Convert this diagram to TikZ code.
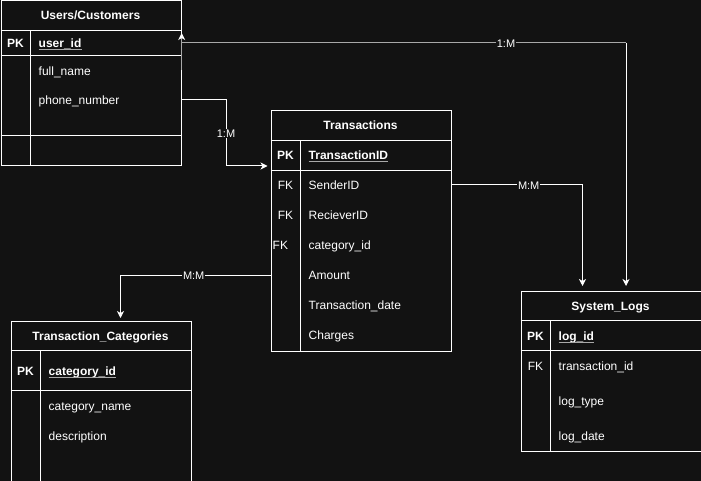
\documentclass[tikz,border=0pt]{standalone}
\usepackage{fontspec}
\setmainfont{Liberation Sans}
\usetikzlibrary{arrows.meta}
\definecolor{canvas}{HTML}{121212}
\definecolor{dimline}{HTML}{A8A8A8}
\begin{document}
\begin{tikzpicture}[x=1pt,y=-1pt,
  every node/.style={text=white, font=\fontsize{12}{14}\selectfont},
  table/.style={draw=white, line width=1pt, inner sep=0pt, anchor=north west, minimum width=180pt},
  grid/.style={draw=white, line width=1pt},
  txt/.style={inner sep=0pt, yshift=-0.8pt},
  title/.style={txt, anchor=base, font=\fontsize{12}{14}\selectfont\bfseries},
  key/.style={txt, anchor=base, font=\fontsize{12}{14}\selectfont\bfseries},
  fk/.style={txt, anchor=base},
  field/.style={txt, anchor=base west},
  pkfield/.style={txt, anchor=base west, font=\fontsize{12}{14}\selectfont\bfseries},
  keyline/.style={draw=dimline, line width=1pt},
  wire/.style={draw=white, line width=1pt},
  tip/.style={-{Stealth[length=7pt,width=7pt,inset=2pt,color=white]}},
  tag/.style={fill=canvas, inner sep=1pt, yshift=-0.5pt, font=\fontsize{11}{13}\selectfont}
]
\useasboundingbox (0,0) rectangle (701,481);
\fill[canvas] (0,0) rectangle (701,481);

% ---------------- Users/Customers
\node[table, minimum height=165pt] (users) at (0.5,0.5) {};
\draw[grid] (0.5,30.5) -- (180.5,30.5);
\draw[grid] (0.5,55.5) -- (180.5,55.5);
\draw[grid] (0.5,135.5) -- (180.5,135.5);
\draw[grid] (30.5,30.5) -- (30.5,165.5);
\node[title] (users-title) at (90.5,19) {Users/Customers};
\node[key] (users-pk) at (15.5,47) {PK};
\node[pkfield] (users-id) at (38.5,47) {user\_id};
\draw[keyline] ([yshift=-1.8pt]users-id.base west) -- ([yshift=-1.8pt]users-id.base east);
\node[field] (users-name) at (38.5,75) {full\_name};
\node[field] (users-phone) at (38.5,104) {phone\_number};

% ---------------- Transactions
\node[table, minimum height=240pt] (trans) at (270.5,110.5) {};
\draw[grid] (270.5,140.5) -- (450.5,140.5);
\draw[grid] (270.5,170.5) -- (450.5,170.5);
\draw[grid] (300.5,140.5) -- (300.5,350.5);
\node[title] (trans-title) at (360.5,129) {Transactions};
\node[key] (trans-pk) at (285.5,159) {PK};
\node[pkfield] (trans-id) at (308.5,159) {TransactionID};
\draw[keyline] ([yshift=-1.8pt]trans-id.base west) -- ([yshift=-1.8pt]trans-id.base east);
\node[fk] (trans-fk1) at (285.5,189) {FK};
\node[fk] (trans-fk2) at (285.5,219) {FK};
\node[field] (trans-fk3) at (272.5,249) {FK};
\node[field] (trans-sender) at (308.5,189) {SenderID};
\node[field] (trans-receiver) at (308.5,219) {RecieverID};
\node[field] (trans-cat) at (308.5,249) {category\_id};
\node[field] (trans-amount) at (308.5,279) {Amount};
\node[field] (trans-date) at (308.5,309) {Transaction\_date};
\node[field] (trans-charges) at (308.5,339) {Charges};

% ---------------- Transaction_Categories
\node[table, minimum height=160pt] (cats) at (10.5,320.5) {};
\draw[grid] (10.5,350.5) -- (190.5,350.5);
\draw[grid] (10.5,390.5) -- (190.5,390.5);
\draw[grid] (40.5,350.5) -- (40.5,480.5);
\node[title] (cats-title) at (100.5,340) {Transaction\_Categories};
\node[key] (cats-pk) at (25.5,374.5) {PK};
\node[pkfield] (cats-id) at (48.5,374.5) {category\_id};
\draw[keyline] ([yshift=-1.8pt]cats-id.base west) -- ([yshift=-1.8pt]cats-id.base east);
\node[field] (cats-name) at (48.5,410) {category\_name};
\node[field] (cats-desc) at (48.5,440) {description};

% ---------------- System_Logs
\node[table, minimum height=160pt] (logs) at (520.5,290.5) {};
\draw[grid] (520.5,320.5) -- (700.5,320.5);
\draw[grid] (520.5,350.5) -- (700.5,350.5);
\draw[grid] (550.5,320.5) -- (550.5,450.5);
\node[title] (logs-title) at (610.5,310) {System\_Logs};
\node[key] (logs-pk) at (535.5,339.5) {PK};
\node[pkfield] (logs-id) at (558.5,339.5) {log\_id};
\draw[keyline] ([yshift=-1.8pt]logs-id.base west) -- ([yshift=-1.8pt]logs-id.base east);
\node[fk] (logs-fk) at (535.5,370) {FK};
\node[field] (logs-tid) at (558.5,370) {transaction\_id};
\node[field] (logs-type) at (558.5,405) {log\_type};
\node[field] (logs-date) at (558.5,440) {log\_date};

% ---------------- Relationships
% Users -> Transactions
\coordinate (k1) at (226,100);
\coordinate (k2) at (226,166);
\draw[wire, tip, shorten >=3pt] (users.east |- k1) -- (k1) -- (k2) -- (trans.west |- k2);
\node[tag] (r1) at (226,133) {1:M};

% Transactions -> System_Logs
\coordinate (k3) at (582.5,185);
\draw[wire, tip, shorten >=4.5pt] (trans.east |- k3) -- (k3) -- (k3 |- logs.north);
\node[tag] (r2) at (528.7,185) {M:M};

% Transactions -> Transaction_Categories
\coordinate (k4) at (120.5,275);
\draw[wire, tip, shorten >=2.5pt] (trans.west |- k4) -- (k4) -- (k4 |- cats.north);
\node[tag] (r3) at (193.7,275) {M:M};

% System_Logs <-> Users/Customers
\coordinate (k5) at (626,43);
\coordinate (k6) at (181.7,43);
\coordinate (k7) at (181.7,70);
\coordinate (k8) at (181.7,33);
\draw[wire, tip, shorten >=4.5pt] (k5) -- (k5 |- logs.north);
\draw[wire, draw=dimline] (k5) -- (k6);
\draw[wire, draw=dimline] (k7) -- (k6);
\draw[wire, draw=dimline, tip] (k6) -- (k8);
\node[tag] (r4) at (506,43) {1:M};
\end{tikzpicture}
\end{document}
